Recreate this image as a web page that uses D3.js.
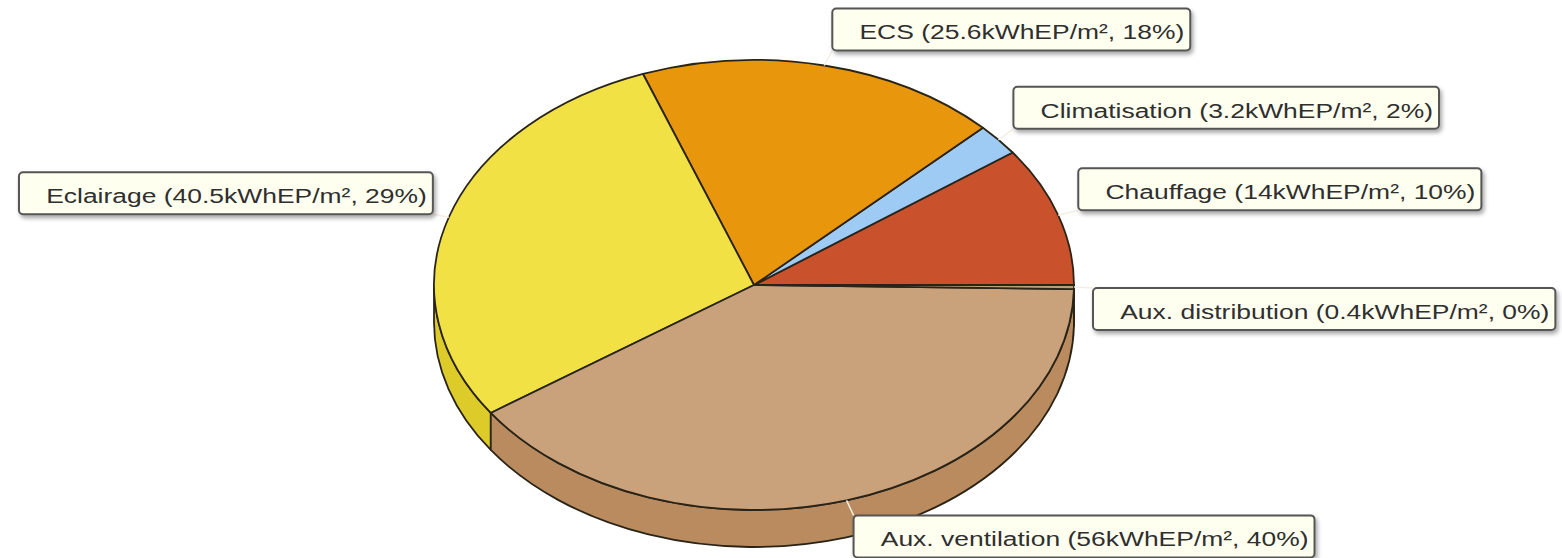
<!DOCTYPE html>
<html>
<head>
<meta charset="utf-8">
<script src="https://cdn.jsdelivr.net/npm/d3@7"></script>
<style>
  html, body { margin: 0; padding: 0; background: #ffffff; }
  svg { display: block; }
</style>
</head>
<body>
<svg id="chart" width="1562" height="558"></svg>
<script>
// Primary energy use by end use (kWhEP/m²)
const categories = ["Chauffage", "Climatisation", "ECS", "Eclairage", "Aux. ventilation", "Aux. distribution"];
const values = [14, 3.2, 25.6, 40.5, 56, 0.4];
const unit = "kWhEP/m²";

// Slice colours: top face and side wall
const topColors = ["#c9522d", "#9dcbf4", "#e8960c", "#f2e145", "#c9a27c", "#b3a577"];
const sideColors = ["#a4401f", "#7fa9d0", "#c07a06", "#dccb28", "#b98b5e", "#978a5c"];

// Label box placement relative to the rim point at each slice's middle angle
// [dx, dy, anchoredSide]
const labelLayout = [
  [20, -47, "left"],
  [15, -53, "left"],
  [8, -57, "left"],
  [-16, -45, "right"],
  [7, 15, "left"],
  [19, 1, "left"]
];

const W = 1562, H = 558;
const cx = 754, cy = 285, rx = 320, ry = 225, depth = 37;
const fontSize = 21, stretch = 1.26, boxH = 42;

const svg = d3.select("#chart");
const defs = svg.append("defs");
const shadow = defs.append("filter").attr("id", "boxShadow")
  .attr("x", "-10%").attr("y", "-30%").attr("width", "130%").attr("height", "180%");
shadow.append("feDropShadow")
  .attr("dx", 2).attr("dy", 3).attr("stdDeviation", 2)
  .attr("flood-color", "#000").attr("flood-opacity", 0.35);

const total = d3.sum(values);
const pie = d3.pie().sort(null).value(d => d);
const arcs = pie(values).map((a, i) => ({ ...a, i }));

// Point on the ellipse for angle t (counter-clockwise from 3 o'clock)
const pt = (t, dy = 0) => [cx + rx * Math.cos(t), cy - ry * Math.sin(t) + dy];

function topPath(a0, a1) {
  const p0 = pt(a0), p1 = pt(a1);
  const large = (a1 - a0) > Math.PI ? 1 : 0;
  return `M${cx},${cy}L${p0[0]},${p0[1]}A${rx},${ry} 0 ${large} 0 ${p1[0]},${p1[1]}Z`;
}

function sidePath(a0, a1) {
  const p0 = pt(a0), p1 = pt(a1), q1 = pt(a1, depth), q0 = pt(a0, depth);
  const large = (a1 - a0) > Math.PI ? 1 : 0;
  return `M${p0[0]},${p0[1]}A${rx},${ry} 0 ${large} 0 ${p1[0]},${p1[1]}` +
         `L${q1[0]},${q1[1]}A${rx},${ry} 0 ${large} 1 ${q0[0]},${q0[1]}Z`;
}

const g = svg.append("g");

// Side walls on the front half of the pie
arcs.forEach(a => {
  const s = Math.max(a.startAngle, Math.PI), e = Math.min(a.endAngle, 2 * Math.PI);
  if (e > s) {
    g.append("path")
      .attr("d", sidePath(s, e))
      .attr("fill", sideColors[a.i])
      .attr("stroke", "#2a2418").attr("stroke-width", 1.8)
      .attr("stroke-linejoin", "round");
  }
});

// Top faces
arcs.forEach(a => {
  g.append("path")
    .attr("d", topPath(a.startAngle, a.endAngle))
    .attr("fill", topColors[a.i])
    .attr("stroke", "#2a2418").attr("stroke-width", 1.8)
    .attr("stroke-linejoin", "round");
});

// Labels
const labels = svg.append("g")
  .attr("font-family", "'Liberation Sans', Arial, sans-serif")
  .attr("font-size", fontSize);

arcs.forEach(a => {
  const mid = (a.startAngle + a.endAngle) / 2;
  const anchor = pt(mid);
  const [dx, dy, side] = labelLayout[a.i];
  const pct = Math.round(a.value / total * 100);
  const text = `${categories[a.i]} (${a.value}${unit}, ${pct}%)`;

  const lg = labels.append("g");
  const t = lg.append("text").attr("fill", "#2f2f2f").text(text);
  const tw = t.node().getComputedTextLength() * stretch;
  const bw = tw + 33;
  const bx = side === "left" ? anchor[0] + dx : anchor[0] + dx - bw;
  const by = anchor[1] + dy;

  // leader from the rim to the box
  const lx = Math.max(bx, Math.min(bx + bw, anchor[0]));
  const ly = Math.max(by, Math.min(by + boxH, anchor[1]));
  lg.insert("line", "text")
    .attr("x1", anchor[0]).attr("y1", anchor[1])
    .attr("x2", lx).attr("y2", ly)
    .attr("stroke", "#f4efe2").attr("stroke-width", 1.5);

  lg.insert("rect", "text")
    .attr("x", bx).attr("y", by)
    .attr("width", bw).attr("height", boxH)
    .attr("rx", 4).attr("ry", 4)
    .attr("fill", "#fffff0")
    .attr("stroke", "#555555").attr("stroke-width", 2)
    .attr("filter", "url(#boxShadow)");

  t.attr("text-anchor", "end")
    .attr("transform", `translate(${bx + bw - 6},${by + 31}) scale(${stretch},1)`);
});
</script>
</body>
</html>
